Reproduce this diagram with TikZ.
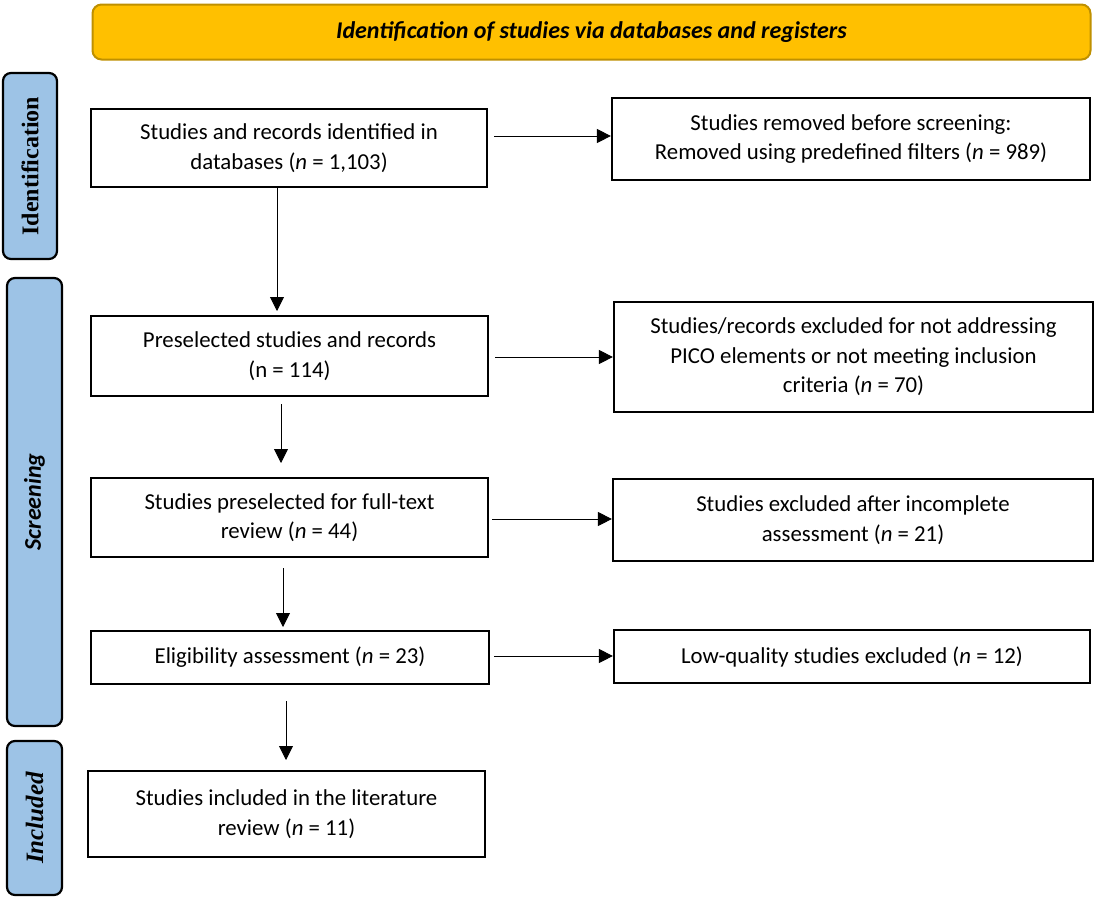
\documentclass[tikz,border=0pt]{standalone}
\usepackage{fontspec}
\setmainfont{Carlito}
\newfontfamily\serifside{Liberation Serif}
\usetikzlibrary{arrows.meta,positioning}
\definecolor{hdrfill}{HTML}{FFC000}
\definecolor{hdrdraw}{HTML}{BF9000}
\definecolor{sidefill}{HTML}{9DC3E6}
\tikzset{
  x=1pt,y=-1pt,
  flowbox/.style={draw=black,line width=2.2pt,fill=white,align=center,font=\fontsize{22.8}{29.5}\selectfont,inner sep=0pt},
  sidebox/.style={draw=black,line width=2.2pt,fill=sidefill,rounded corners=8pt,inner sep=0pt},
  arr/.style={line width=0.9pt,-{Triangle[length=14pt,width=14pt]}},
  hdr/.style={draw=hdrdraw,line width=2pt,fill=hdrfill,rounded corners=9pt,inner sep=0pt,font=\fontsize{24}{28}\selectfont\bfseries\itshape}
}
\begin{document}
\begin{tikzpicture}
\useasboundingbox (0,0) rectangle (1103,897);
\fill[white] (0,0) rectangle (1103,897);
% header
\node[hdr,minimum width=998pt,minimum height=55pt] (hdr) at (591.5,32) {Identification of studies via databases and registers};
% side labels
\node[sidebox,minimum width=54pt,minimum height=186pt] (sid) at (30,166) {};
\node[rotate=90,font=\serifside\fontsize{24}{28}\selectfont\bfseries] (sidt) at (sid.center) {Identification};
\node[sidebox,minimum width=55pt,minimum height=448pt] (sscr) at (34.5,502) {};
\node[rotate=90,font=\fontsize{24}{28}\selectfont\bfseries\itshape] (sscrt) at (sscr.center) {Screening};
\node[sidebox,minimum width=55pt,minimum height=154pt] (sinc) at (34.5,818) {};
\node[rotate=90,font=\serifside\fontsize{25}{28}\selectfont\bfseries\itshape] (sinct) at (sinc.center) {Included};
% left column
\node[flowbox,minimum width=396pt,minimum height=78pt] (a) at (289,148) {Studies and records identified in\\databases (\textit{n} = 1,103)};
\node[flowbox,minimum width=397pt,minimum height=80pt] (b) at (289.5,356) {Preselected studies and records\\(n = 114)};
\node[flowbox,minimum width=397pt,minimum height=79pt] (c) at (289.5,517.5) {Studies preselected for full-text\\review (\textit{n} = 44)};
\node[flowbox,minimum width=398pt,minimum height=53pt] (d) at (290,657.5) {Eligibility assessment (\textit{n} = 23)};
\node[flowbox,minimum width=397pt,minimum height=86pt] (e) at (286.5,814) {Studies included in the literature\\review (\textit{n} = 11)};
% right column
\node[flowbox,minimum width=478pt,minimum height=82pt] (ar) at (851,139) {Studies removed before screening:\\Removed using predefined filters (\textit{n} = 989)};
\node[flowbox,minimum width=479pt,minimum height=110pt] (br) at (853.5,357) {Studies/records excluded for not addressing\\PICO elements or not meeting inclusion\\criteria (\textit{n} = 70)};
\node[flowbox,minimum width=480pt,minimum height=82pt] (cr) at (853,520) {Studies excluded after incomplete\\assessment (\textit{n} = 21)};
\node[flowbox,minimum width=476pt,minimum height=53pt] (dr) at (852,656.5) {Low-quality studies excluded (\textit{n} = 12)};
% vertical arrows
\coordinate (a1) at (277,188);
\coordinate (a2) at (277,311);
\draw[arr] (a1) -- (a2);
\coordinate (b1) at (281,404);
\coordinate (b2) at (281,463);
\draw[arr] (b1) -- (b2);
\coordinate (c1) at (283,568);
\coordinate (c2) at (283,627);
\draw[arr] (c1) -- (c2);
\coordinate (d1) at (286,701);
\coordinate (d2) at (286,760);
\draw[arr] (d1) -- (d2);
% horizontal arrows
\coordinate (h1) at (494,136);
\draw[arr] (h1) -- (h1 -| ar.west);
\coordinate (h2) at (495,357);
\draw[arr] (h2) -- (h2 -| br.west);
\coordinate (h3) at (492,519);
\draw[arr] (h3) -- (h3 -| cr.west);
\coordinate (h4) at (494,656);
\draw[arr] (h4) -- (h4 -| dr.west);
\end{tikzpicture}
\end{document}
